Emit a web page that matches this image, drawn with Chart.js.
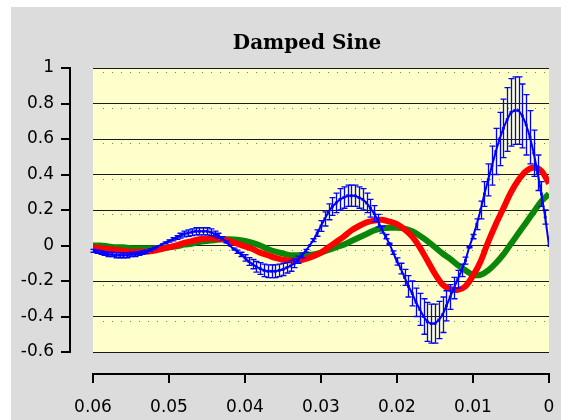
<!DOCTYPE html>
<html>
<head>
<meta charset="utf-8">
<script src="https://cdn.jsdelivr.net/npm/chart.js@4.4.1/dist/chart.umd.min.js"></script>
<style>
  html,body{margin:0;padding:0;background:#fff;}
  #bg{position:absolute;left:11px;top:7px;width:550px;height:413px;background:#dcdcdc;}
  #wrap{position:absolute;left:0;top:0;width:561px;height:420px;}
  #title{position:absolute;left:187px;top:30px;width:240px;text-align:center;line-height:24px;
    font:bold 20px "DejaVu Serif",serif;color:#000;z-index:2;}
</style>
</head>
<body>
<div id="bg"></div>
<div id="title">Damped Sine</div>
<div id="wrap"><canvas id="chart"></canvas></div>
<script>
// x sampling: blue every 0.0005, red/green every 0.001 (from 0 up to 0.06)
const blueStep = 0.0005;
const lineStep = 0.001;

// blue (with error bars)
const blueVals = [
  0.00, 0.16, 0.29, 0.41, 0.52, 0.61, 0.68, 0.73, 0.76, 0.76,
  0.75, 0.71, 0.66, 0.60, 0.53, 0.45, 0.37, 0.29, 0.20, 0.12,
  0.05, -0.01, -0.085, -0.14, -0.19, -0.24, -0.29, -0.34, -0.39, -0.42,
  -0.44, -0.44, -0.43, -0.40, -0.36, -0.32, -0.27, -0.23, -0.18, -0.13,
  -0.09, -0.04, 0.01, 0.05, 0.09, 0.14, 0.18, 0.21, 0.24, 0.26,
  0.27, 0.28, 0.28, 0.28, 0.27, 0.26, 0.24, 0.22, 0.19, 0.15,
  0.11, 0.07, 0.03, 0.00, -0.03, -0.055, -0.08, -0.10, -0.115, -0.125,
  -0.135, -0.14, -0.145, -0.145, -0.145, -0.14, -0.13, -0.12, -0.105, -0.09,
  -0.07, -0.05, -0.035, -0.02, 0.00, 0.02, 0.04, 0.055, 0.065, 0.075,
  0.08, 0.08, 0.08, 0.08, 0.075, 0.07, 0.065, 0.055, 0.045, 0.035,
  0.025, 0.015, 0.005, -0.005, -0.015, -0.025, -0.035, -0.04, -0.045, -0.05,
  -0.05, -0.055, -0.055, -0.055, -0.055, -0.05, -0.05, -0.045, -0.04, -0.035,
  -0.03
];
const blueErr = [
  0, 0.04, 0.07, 0.10, 0.13, 0.15, 0.17, 0.18, 0.19, 0.19,
  0.19, 0.18, 0.165, 0.15, 0.13, 0.11, 0.09, 0.07, 0.05, 0.03,
  0.012, 0.003, 0.02, 0.035, 0.05, 0.06, 0.07, 0.085, 0.10, 0.105,
  0.11, 0.11, 0.11, 0.10, 0.09, 0.08, 0.07, 0.06, 0.045, 0.03,
  0.02, 0.01, 0.003, 0.012, 0.02, 0.035, 0.045, 0.05, 0.055, 0.06,
  0.06, 0.06, 0.06, 0.06, 0.06, 0.06, 0.055, 0.05, 0.045, 0.04,
  0.03, 0.018, 0.008, 0, 0.008, 0.014, 0.02, 0.025, 0.03, 0.03,
  0.034, 0.035, 0.036, 0.036, 0.036, 0.035, 0.033, 0.03, 0.026, 0.022,
  0.018, 0.012, 0.009, 0.005, 0, 0.005, 0.01, 0.014, 0.016, 0.019,
  0.02, 0.02, 0.02, 0.02, 0.019, 0.018, 0.016, 0.014, 0.011, 0.009,
  0.006, 0.004, 0.001, 0.001, 0.004, 0.006, 0.009, 0.01, 0.011, 0.012,
  0.012, 0.014, 0.014, 0.014, 0.014, 0.012, 0.012, 0.011, 0.01, 0.009,
  0.008
];

const redVals = [
  0.35, 0.42, 0.44, 0.42, 0.37, 0.30, 0.21, 0.12, 0.02, -0.09,
  -0.17, -0.23, -0.25, -0.245, -0.22, -0.16, -0.085, -0.01, 0.05, 0.09,
  0.12, 0.135, 0.145, 0.14, 0.13, 0.11, 0.085, 0.05, 0.02, -0.01,
  -0.04, -0.06, -0.075, -0.085, -0.085, -0.08, -0.07, -0.055, -0.04, -0.02,
  -0.005, 0.01, 0.025, 0.035, 0.04, 0.04, 0.035, 0.025, 0.015, 0.0,
  -0.01, -0.02, -0.03, -0.035, -0.035, -0.035, -0.03, -0.025, -0.02, -0.015,
  -0.01
];

const greenVals = [
  0.29, 0.25, 0.19, 0.13, 0.07, 0.01, -0.05, -0.10, -0.14, -0.165,
  -0.165, -0.14, -0.11, -0.075, -0.045, -0.01, 0.025, 0.055, 0.08, 0.095,
  0.10, 0.10, 0.095, 0.085, 0.065, 0.045, 0.025, 0.005, -0.01, -0.025,
  -0.04, -0.05, -0.055, -0.055, -0.055, -0.045, -0.035, -0.02, 0.0, 0.015,
  0.025, 0.032, 0.035, 0.035, 0.03, 0.025, 0.02, 0.01, 0.005, -0.005,
  -0.01, -0.015, -0.015, -0.015, -0.015, -0.015, -0.01, -0.01, -0.005, 0.0,
  0.0
];

const xTickLabels = ["0", "0.01", "0.02", "0.03", "0.04", "0.05", "0.06"];
const yTickLabels = ["-0.6", "-0.4", "-0.2", "0", "0.2", "0.4", "0.6", "0.8", "1"];
const yTickValues = [-0.6, -0.4, -0.2, 0, 0.2, 0.4, 0.6, 0.8, 1];
const xTickValues = [0, 0.01, 0.02, 0.03, 0.04, 0.05, 0.06];

function pts(vals, step){
  return vals.map((v, i) => ({ x: Number((i*step).toFixed(4)), y: v }));
}

const decor = {
  id: "decor",
  beforeDraw(chart){
    const {ctx, chartArea: a} = chart;
    ctx.save();
    ctx.fillStyle = "#ffffcc";
    ctx.fillRect(a.left, a.top, a.right - a.left, a.bottom - a.top);
    ctx.restore();
  },
  beforeDatasetsDraw(chart){
    // faint green dotted lines just under the major lines
    const {ctx, chartArea: a, scales: {y}} = chart;
    ctx.save();
    ctx.fillStyle = "#3fa83f";
    yTickValues.slice(1).forEach(v => {
      const py = Math.round(y.getPixelForValue(v)) + 4;
      for(let px = a.left + 10; px < a.right - 2; px += 9) ctx.fillRect(px, py, 1, 1);
    });
    ctx.restore();
  },
  afterDatasetsDraw(chart){
    const {ctx, scales: {x, y}} = chart;
    ctx.save();
    ctx.strokeStyle = "#0000ff";
    ctx.lineWidth = 1.3;
    blueVals.forEach((v, i) => {
      const e = blueErr[i];
      if(e <= 0.002) return;
      const px = Math.round(x.getPixelForValue(i*blueStep)) + 0.5;
      const y1 = y.getPixelForValue(v + e), y2 = y.getPixelForValue(v - e);
      ctx.beginPath();
      ctx.moveTo(px, y1); ctx.lineTo(px, y2);
      ctx.moveTo(px - 3, y1); ctx.lineTo(px + 3, y1);
      ctx.moveTo(px - 3, y2); ctx.lineTo(px + 3, y2);
      ctx.stroke();
    });
    ctx.restore();
  },
  afterDraw(chart){
    const {ctx, chartArea: a, scales: {x, y}} = chart;
    ctx.save();
    ctx.strokeStyle = "#000";
    ctx.lineWidth = 2;
    // y axis, detached to the left
    const ax = a.left - 23;
    ctx.beginPath();
    ctx.moveTo(ax, y.getPixelForValue(1) - 1);
    ctx.lineTo(ax, y.getPixelForValue(-0.6) + 1);
    yTickValues.forEach(v => {
      const py = Math.round(y.getPixelForValue(v));
      ctx.moveTo(ax - 9, py); ctx.lineTo(ax, py);
    });
    // x axis, detached below
    const ay = a.bottom + 22;
    ctx.moveTo(x.getPixelForValue(0.06) - 1, ay);
    ctx.lineTo(x.getPixelForValue(0) + 1, ay);
    xTickValues.forEach(v => {
      const px = Math.round(x.getPixelForValue(v));
      ctx.moveTo(px, ay); ctx.lineTo(px, ay + 9);
    });
    ctx.stroke();
    ctx.restore();
  }
};

new Chart(document.getElementById("chart").getContext("2d"), {
  type: "line",
  data: {
    datasets: [
      { label: "blue", data: pts(blueVals, blueStep), borderColor: "#0000ff", borderWidth: 2,
        pointStyle: "rect", pointRadius: 2, pointBackgroundColor: "#0000ff", pointBorderWidth: 0,
        tension: 0, order: 0 },
      { label: "red", data: pts(redVals, lineStep), borderColor: "#ff0000", borderWidth: 6,
        pointRadius: 0, tension: 0.3, order: 1 },
      { label: "green", data: pts(greenVals, lineStep), borderColor: "#0a870a", borderWidth: 6,
        pointRadius: 0, tension: 0.3, order: 2 }
    ]
  },
  options: {
    responsive: true,
    maintainAspectRatio: false,
    animation: false,
    events: [],
    layout: { padding: { left: 11, right: 12, top: 68, bottom: 0 } },
    plugins: {
      legend: { display: false },
      tooltip: { enabled: false },
      title: { display: false }
    },
    scales: {
      x: {
        type: "linear", reverse: true, min: 0, max: 0.06,
        afterFit(s){ s.height = 68; },
        grid: { display: true, drawOnChartArea: false, drawTicks: true, tickLength: 41, tickColor: "rgba(0,0,0,0)" },
        border: { display: false },
        ticks: { stepSize: 0.01, padding: 4, color: "#000", maxRotation: 0, autoSkip: false,
          font: { family: "'DejaVu Sans', sans-serif", size: 17 },
          callback: v => xTickLabels[Math.round(v*100)] }
      },
      y: {
        min: -0.6, max: 1,
        afterFit(s){ s.width = 82; },
        grid: { color: "#1a1a1a", lineWidth: 1, drawTicks: true, tickLength: 35, tickColor: "rgba(0,0,0,0)" },
        border: { display: false },
        ticks: { stepSize: 0.2, padding: 4, color: "#000", autoSkip: false,
          font: { family: "'DejaVu Sans', sans-serif", size: 17 },
          callback: (v, i) => yTickLabels[i] }
      }
    }
  },
  plugins: [decor]
});
</script>
</body>
</html>
